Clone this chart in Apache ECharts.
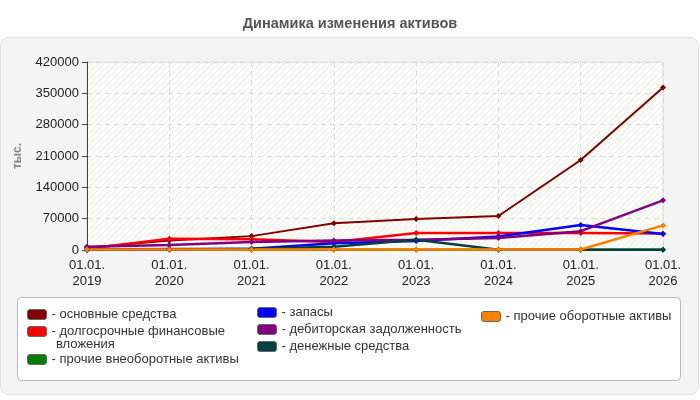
<!DOCTYPE html>
<html>
<head>
<meta charset="utf-8">
<script src="https://cdn.jsdelivr.net/npm/echarts@6/dist/echarts.min.js"></script>
<style>
  html, body { margin: 0; padding: 0; background: #fff; }
  #main { width: 700px; height: 400px; }
</style>
</head>
<body>
<div id="main"></div>
<script>
// годы (подписи оси X)
var years = ["2019", "2020", "2021", "2022", "2023", "2024", "2025", "2026"];
var yTicks = [0, 70000, 140000, 210000, 280000, 350000, 420000];

// значения, тыс.
var osnovnye = [5000, 21000, 31000, 60000, 69000, 76000, 201000, 363000];
var dolgosrochnye = [3000, 25000, 24000, 18000, 38000, 38000, 38000, 37000];
var prochieVneob = [500, 500, 500, 500, 500, 500, 500, 500];
var zapasy = [0, 1000, 3000, 15000, 20000, 30000, 56000, 36000];
var debitorka = [7000, 11000, 18000, 21000, 23000, 27000, 42000, 111000];
var denezhnye = [1000, 2000, 3000, 7000, 23000, 500, 500, 500];
var prochieOb = [1000, 1000, 1000, 1000, 1000, 1000, 1000, 55000];

var names = [
  "основные средства",
  "долгосрочные финансовые вложения",
  "прочие внеоборотные активы",
  "запасы",
  "дебиторская задолженность",
  "денежные средства",
  "прочие оборотные активы"
];
var colors = ["#800000", "#ff0000", "#008000", "#0000ff", "#800080", "#004040", "#ff8000"];
var values = [osnovnye, dolgosrochnye, prochieVneob, zapasy, debitorka, denezhnye, prochieOb];

// штриховка фона
var hatch = document.createElement("canvas");
hatch.width = 6; hatch.height = 6;
var hc = hatch.getContext("2d");
hc.fillStyle = "#fdfdf7";
hc.fillRect(0, 0, 6, 6);
hc.strokeStyle = "#ececec";
hc.lineWidth = 1;
hc.beginPath();
hc.moveTo(0, 6); hc.lineTo(6, 0);
hc.moveTo(-3, 3); hc.lineTo(3, -3);
hc.moveTo(3, 9); hc.lineTo(9, 3);
hc.stroke();

var legendPos = [
  [22, 303], [22, 320], [22, 348],
  [252, 301], [252, 318], [252, 335],
  [476, 305]
];

var legends = names.map(function (n, i) {
  var long = n === "долгосрочные финансовые вложения";
  return {
    data: [n],
    left: legendPos[i][0],
    top: legendPos[i][1],
    orient: "vertical",
    itemWidth: 19,
    itemHeight: 10,
    itemGap: 0,
    icon: "roundRect",
    selectedMode: false,
    itemStyle: { borderColor: "#666", borderWidth: 1 },
    formatter: long ? "- долгосрочные финансовые" : "- " + n,
    textStyle: { color: "#333", fontSize: 13, fontFamily: "Arial" }
  };
});

var myChart = echarts.init(document.getElementById("main"));
myChart.setOption({
  animation: false,
  color: colors,
  title: {
    text: "Динамика изменения активов",
    left: "center",
    top: 11,
    textStyle: { color: "#555", fontSize: 14.5, fontWeight: "bold", fontFamily: "Arial" }
  },
  graphic: [
    {
      type: "rect",
      shape: { x: 0.5, y: 37.5, width: 698, height: 357, r: 8 },
      style: { fill: "#f4f4f4", stroke: "#e2e2e2", lineWidth: 1 },
      z: -10
    },
    {
      type: "rect",
      shape: { x: 17.5, y: 297.5, width: 663, height: 83, r: 4 },
      style: { fill: "#fff", stroke: "#b8b8b8", lineWidth: 1 },
      z: -9
    },
    {
      // вторая строка подписи «долгосрочные финансовые вложения»
      type: "text",
      left: 56,
      top: 338,
      style: { text: "вложения", fill: "#333", fontSize: 13, fontFamily: "Arial" }
    }
  ],
  legend: legends,
  grid: {
    left: 87,
    right: 37,
    top: 62,
    bottom: 150,
    show: true,
    backgroundColor: { image: hatch, repeat: "repeat" },
    borderColor: "#dedede",
    borderWidth: 1
  },
  xAxis: {
    type: "category",
    boundaryGap: false,
    data: years,
    axisLine: { lineStyle: { color: "#444" } },
    axisTick: { show: false },
    axisLabel: {
      color: "#222",
      fontSize: 13,
      fontFamily: "Arial",
      lineHeight: 16,
      margin: 7,
      formatter: function (v) { return "01.01.\n" + v; }
    },
    splitLine: { show: true, lineStyle: { color: "#dcdcdc", type: [5, 4] } }
  },
  yAxis: {
    type: "value",
    min: yTicks[0],
    max: yTicks[yTicks.length - 1],
    interval: 70000,
    name: "тыс.",
    nameLocation: "middle",
    nameGap: 63,
    nameRotate: 90,
    nameTextStyle: { color: "#888", fontSize: 12, fontWeight: "bold", fontFamily: "Arial" },
    axisLine: { show: true, lineStyle: { color: "#444" } },
    axisTick: { show: true, length: 5, lineStyle: { color: "#444" } },
    axisLabel: {
      color: "#222",
      fontSize: 13,
      fontFamily: "Arial",
      margin: 8,
      formatter: function (v) { return String(v); }
    },
    splitLine: { show: true, lineStyle: { color: "#dcdcdc", type: [5, 4] } }
  },
  series: names.map(function (n, i) {
    return {
      name: n,
      type: "line",
      data: values[i],
      symbol: "diamond",
      symbolSize: 6,
      lineStyle: { width: i === 0 ? 2 : 2.5, color: colors[i] },
      itemStyle: { color: colors[i] }
    };
  })
});
</script>
</body>
</html>
